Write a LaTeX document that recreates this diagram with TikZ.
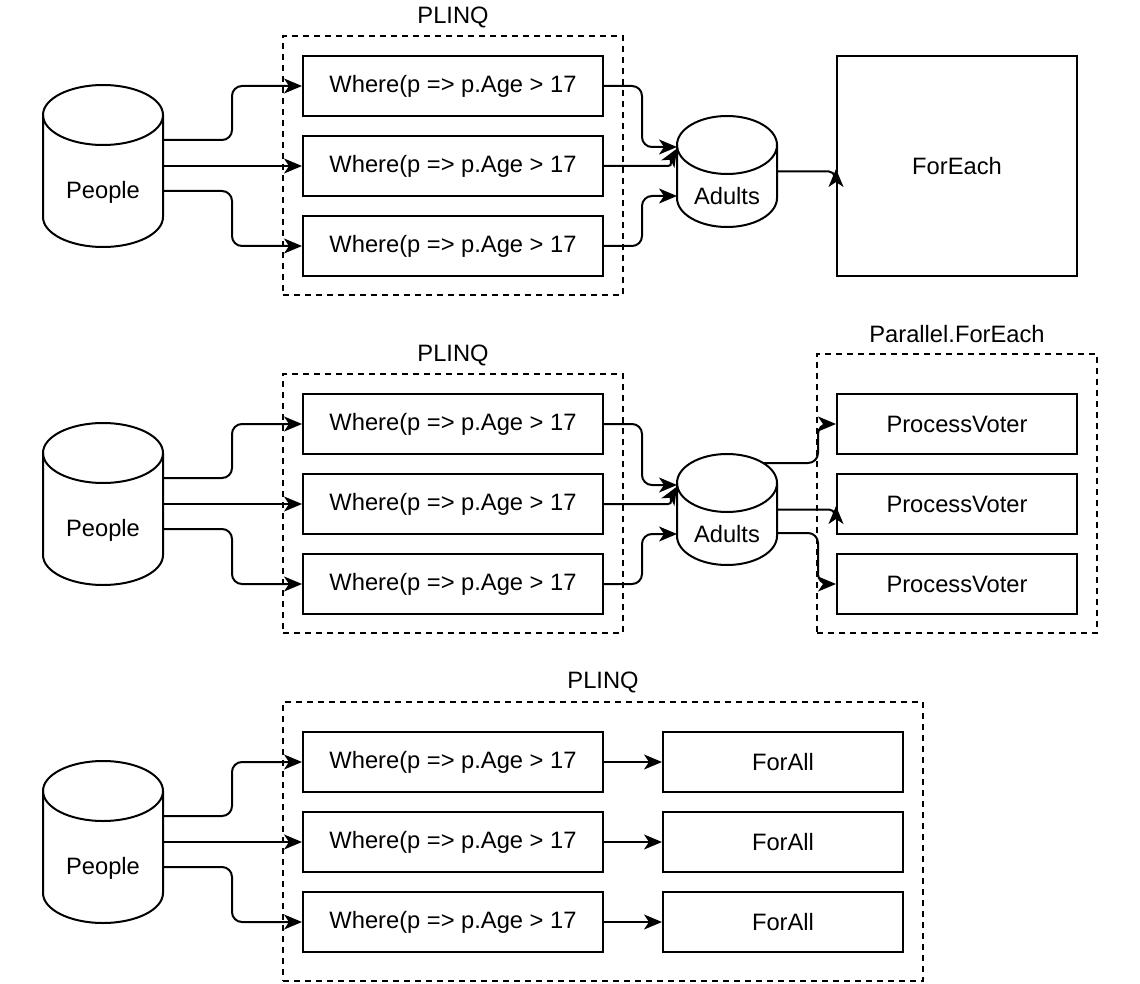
\documentclass[tikz,border=0pt]{standalone}
\usepackage{fontspec}
\setmainfont{Liberation Sans}
\usetikzlibrary{arrows.meta}
\newcommand{\drawcyl}[4]{%
  \draw[line width=2pt] ([yshift=-#3pt]#1.north west) -- ([yshift=#4pt]#1.south west)
    arc[start angle=180, end angle=360, x radius=#2pt, y radius=#4pt] -- ([yshift=-#3pt]#1.north east);
  \draw[line width=2pt] ([yshift=-#3pt]#1.north) ellipse [x radius=#2pt, y radius=#3pt];
}
\begin{document}
\begin{tikzpicture}[x=1pt,y=-1pt,
  txt/.style={font=\fontsize{23.7}{28}\selectfont, inner sep=0pt},
  wbox/.style={txt, draw, line width=2pt, minimum width=300pt, minimum height=60pt},
  sbox/.style={txt, draw, line width=2pt, minimum width=240pt, minimum height=60pt},
  grp/.style={draw, line width=1.6pt, dash pattern=on 6pt off 5pt, inner sep=0pt, outer sep=0pt},
  cyl/.style={inner sep=0pt, outer sep=0pt},
  tip/.style={-{Stealth[length=18pt,width=15pt,inset=5pt]}},
  arr/.style={line width=2pt, rounded corners=10pt, tip},
  arrc/.style={line width=2pt, tip},
]
\useasboundingbox[fill=white] (0,0) rectangle (1140,984);

% ---------- Section 1 ----------
\node[grp, minimum width=340pt, minimum height=259pt] (gA) at (453,165.5) {};
\node[txt] (gAl) at (453,17) {PLINQ};
\node[wbox] (wA1) at (453,86) {Where(p => p.Age > 17};
\node[wbox] (wA2) at (453,166) {Where(p => p.Age > 17};
\node[wbox] (wA3) at (453,246) {Where(p => p.Age > 17};
\node[cyl, minimum width=120pt, minimum height=162pt] (pA) at (103,166) {};
\drawcyl{pA}{60}{30}{30}
\node[txt] (pAl) at (103,192) {People};
\node[cyl, minimum width=100pt, minimum height=111pt] (aA) at (727,171.5) {};
\drawcyl{aA}{50}{29}{29}
\node[txt] (aAl) at (727,196) {Adults};
\node[txt, draw, line width=2pt, minimum width=240pt, minimum height=220pt] (fe) at (957,166) {ForEach};

\draw[arr] ([yshift=26pt]pA.east) -- ++(69,0) |- (wA1.west);
\draw[arr] (pA.east) -- (wA2.west);
\draw[arr] ([yshift=-25pt]pA.east) -- ++(69,0) |- (wA3.west);
\draw[arr] (wA1.east) -- ++(38,0) |- ([yshift=24.5pt]aA.west);
\draw[arrc] (wA2.east) -- ++(64,0) .. controls +(5,0) and +(-7,12) .. ([yshift=23pt]aA.west);
\draw[arr] (wA3.east) -- ++(38,0) |- ([yshift=-24.5pt]aA.west);
\draw[arrc] (aA.east) -- ++(52,0) .. controls +(6,0) and +(0,12) .. ([yshift=-3pt]fe.west);

% ---------- Section 2 ----------
\node[grp, minimum width=340pt, minimum height=259pt] (gB) at (453,503.5) {};
\node[txt] (gBl) at (453,355) {PLINQ};
\node[wbox] (wB1) at (453,424) {Where(p => p.Age > 17};
\node[wbox] (wB2) at (453,504) {Where(p => p.Age > 17};
\node[wbox] (wB3) at (453,584) {Where(p => p.Age > 17};
\node[cyl, minimum width=120pt, minimum height=162pt] (pB) at (103,504) {};
\drawcyl{pB}{60}{30}{30}
\node[txt] (pBl) at (103,530) {People};
\node[cyl, minimum width=100pt, minimum height=111pt] (aB) at (727,509.5) {};
\drawcyl{aB}{50}{29}{29}
\node[txt] (aBl) at (727,534) {Adults};
\node[grp, minimum width=280pt, minimum height=279pt] (gP) at (957,493.5) {};
\node[txt] (gPl) at (957,334) {Parallel.ForEach};
\node[sbox] (pv1) at (957,424) {ProcessVoter};
\node[sbox] (pv2) at (957,504) {ProcessVoter};
\node[sbox] (pv3) at (957,584) {ProcessVoter};

\draw[arr] ([yshift=26pt]pB.east) -- ++(69,0) |- (wB1.west);
\draw[arr] (pB.east) -- (wB2.west);
\draw[arr] ([yshift=-25pt]pB.east) -- ++(69,0) |- (wB3.west);
\draw[arr] (wB1.east) -- ++(38,0) |- ([yshift=24.5pt]aB.west);
\draw[arrc] (wB2.east) -- ++(64,0) .. controls +(5,0) and +(-7,12) .. ([yshift=23pt]aB.west);
\draw[arr] (wB3.east) -- ++(38,0) |- ([yshift=-24.5pt]aB.west);
\draw[arr] ([xshift=36pt,yshift=46.5pt]aB.center) -- ++(55,0) |- (pv1.west);
\draw[arrc] (aB.east) -- ++(52,0) .. controls +(6,0) and +(0,12) .. ([yshift=-2pt]pv2.west);
\draw[arr] ([yshift=-23.5pt]aB.east) -- ++(41,0) |- (pv3.west);

% ---------- Section 3 ----------
\node[grp, minimum width=640pt, minimum height=279pt] (gC) at (603,841.5) {};
\node[txt] (gCl) at (603,682) {PLINQ};
\node[wbox] (wC1) at (453,762) {Where(p => p.Age > 17};
\node[wbox] (wC2) at (453,842) {Where(p => p.Age > 17};
\node[wbox] (wC3) at (453,922) {Where(p => p.Age > 17};
\node[sbox] (fa1) at (783,762) {ForAll};
\node[sbox] (fa2) at (783,842) {ForAll};
\node[sbox] (fa3) at (783,922) {ForAll};
\node[cyl, minimum width=120pt, minimum height=162pt] (pC) at (103,842) {};
\drawcyl{pC}{60}{30}{30}
\node[txt] (pCl) at (103,868) {People};

\draw[arr] ([yshift=26pt]pC.east) -- ++(69,0) |- (wC1.west);
\draw[arr] (pC.east) -- (wC2.west);
\draw[arr] ([yshift=-25pt]pC.east) -- ++(69,0) |- (wC3.west);
\draw[arr] (wC1.east) -- (fa1.west);
\draw[arr] (wC2.east) -- (fa2.west);
\draw[arr] (wC3.east) -- (fa3.west);
\end{tikzpicture}
\end{document}
